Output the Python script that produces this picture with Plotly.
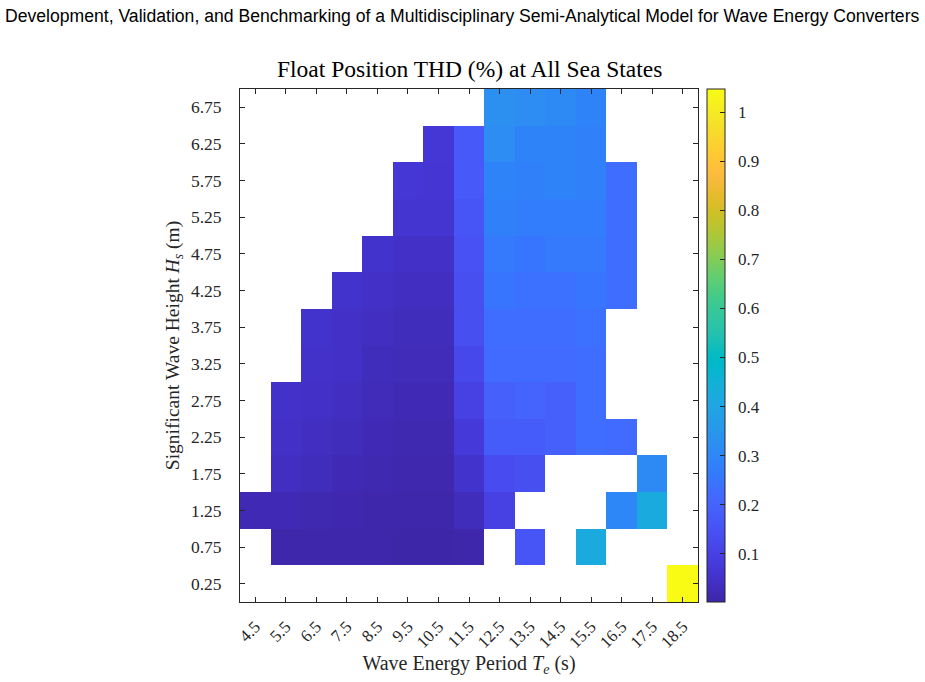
import plotly.graph_objects as go

te_periods = [4.5, 5.5, 6.5, 7.5, 8.5, 9.5, 10.5, 11.5, 12.5, 13.5, 14.5, 15.5, 16.5, 17.5, 18.5]
hs_heights = [0.25, 0.75, 1.25, 1.75, 2.25, 2.75, 3.25, 3.75, 4.25, 4.75, 5.25, 5.75, 6.25, 6.75]
x_tick_labels = ["4.5", "5.5", "6.5", "7.5", "8.5", "9.5", "10.5", "11.5", "12.5", "13.5", "14.5", "15.5", "16.5", "17.5", "18.5"]
y_tick_labels = ["0.25", "0.75", "1.25", "1.75", "2.25", "2.75", "3.25", "3.75", "4.25", "4.75", "5.25", "5.75", "6.25", "6.75"]
cbar_ticks = [0.1, 0.2, 0.3, 0.4, 0.5, 0.6, 0.7, 0.8, 0.9, 1.0]
cbar_labels = ["0.1", "0.2", "0.3", "0.4", "0.5", "0.6", "0.7", "0.8", "0.9", "1"]

N = None
thd_row_025 = [N, N, N, N, N, N, N, N, N, N, N, N, N, N, 1.047]
thd_row_075 = [N, .008, .008, .006, .005, .004, .004, .008, N, .16, N, .42, N, N, N]
thd_row_125 = [.02, .02, .015, .012, .008, .006, .006, .03, .10, N, N, N, .30, .42, N]
thd_row_175 = [N, .035, .03, .02, .015, .01, .01, .055, .13, .14, N, N, N, .31, N]
thd_row_225 = [N, .045, .035, .03, .02, .015, .015, .075, .18, .18, .19, .23, .22, N, N]
thd_row_275 = [N, .05, .045, .035, .025, .02, .02, .10, .19, .20, .19, .23, N, N, N]
thd_row_325 = [N, N, .05, .045, .03, .025, .025, .12, .22, .22, .22, .23, N, N, N]
thd_row_375 = [N, N, .055, .045, .035, .03, .03, .14, .23, .23, .23, .24, N, N, N]
thd_row_425 = [N, N, N, .055, .045, .035, .035, .14, .25, .24, .24, .25, .23, N, N]
thd_row_475 = [N, N, N, N, .055, .045, .045, .15, .26, .25, .26, .26, .23, N, N]
thd_row_525 = [N, N, N, N, N, .06, .06, .16, .28, .27, .27, .27, .23, N, N]
thd_row_575 = [N, N, N, N, N, .07, .065, .17, .29, .28, .29, .28, .23, N, N]
thd_row_625 = [N, N, N, N, N, N, .07, .17, .32, .29, .29, .28, N, N, N]
thd_row_675 = [N, N, N, N, N, N, N, N, .33, .32, .31, .29, N, N, N]

thd_grid = [thd_row_025, thd_row_075, thd_row_125, thd_row_175, thd_row_225, thd_row_275,
            thd_row_325, thd_row_375, thd_row_425, thd_row_475, thd_row_525, thd_row_575,
            thd_row_625, thd_row_675]

parula = [
    (0.2422, 0.1504, 0.6603), (0.2504, 0.1650, 0.7076), (0.2578, 0.1818, 0.7511), (0.2647, 0.1978, 0.7952),
    (0.2706, 0.2147, 0.8364), (0.2751, 0.2342, 0.8710), (0.2783, 0.2559, 0.8991), (0.2803, 0.2782, 0.9221),
    (0.2813, 0.3006, 0.9414), (0.2810, 0.3228, 0.9579), (0.2795, 0.3447, 0.9717), (0.2760, 0.3667, 0.9829),
    (0.2699, 0.3892, 0.9906), (0.2602, 0.4123, 0.9952), (0.2440, 0.4358, 0.9988), (0.2206, 0.4603, 0.9973),
    (0.1963, 0.4847, 0.9892), (0.1834, 0.5074, 0.9798), (0.1786, 0.5289, 0.9682), (0.1764, 0.5499, 0.9520),
    (0.1687, 0.5703, 0.9359), (0.1540, 0.5902, 0.9218), (0.1460, 0.6091, 0.9079), (0.1380, 0.6276, 0.8973),
    (0.1248, 0.6459, 0.8883), (0.1113, 0.6635, 0.8763), (0.0952, 0.6798, 0.8598), (0.0689, 0.6948, 0.8394),
    (0.0297, 0.7082, 0.8163), (0.0036, 0.7203, 0.7917), (0.0067, 0.7312, 0.7660), (0.0433, 0.7411, 0.7394),
    (0.0964, 0.7500, 0.7120), (0.1408, 0.7584, 0.6842), (0.1717, 0.7670, 0.6554), (0.1938, 0.7758, 0.6251),
    (0.2161, 0.7843, 0.5923), (0.2470, 0.7918, 0.5567), (0.2906, 0.7973, 0.5188), (0.3406, 0.8008, 0.4789),
    (0.3909, 0.8029, 0.4354), (0.4456, 0.8024, 0.3909), (0.5044, 0.7993, 0.3480), (0.5616, 0.7942, 0.3045),
    (0.6174, 0.7876, 0.2612), (0.6720, 0.7793, 0.2227), (0.7242, 0.7698, 0.1910), (0.7738, 0.7598, 0.1646),
    (0.8203, 0.7498, 0.1535), (0.8634, 0.7406, 0.1596), (0.9035, 0.7330, 0.1774), (0.9393, 0.7288, 0.2100),
    (0.9728, 0.7298, 0.2394), (0.9956, 0.7434, 0.2371), (0.9970, 0.7659, 0.2199), (0.9952, 0.7893, 0.2028),
    (0.9892, 0.8136, 0.1885), (0.9786, 0.8386, 0.1766), (0.9676, 0.8639, 0.1643), (0.9610, 0.8890, 0.1537),
    (0.9597, 0.9135, 0.1423), (0.9628, 0.9373, 0.1265), (0.9691, 0.9606, 0.1064), (0.9769, 0.9839, 0.0805),
]
colorscale = [[i / (len(parula) - 1), "rgb(%d,%d,%d)" % tuple(round(c * 255) for c in rgb)]
              for i, rgb in enumerate(parula)]

serif = "Liberation Serif, Times New Roman, serif"
ink = "#262626"

fig = go.Figure(go.Heatmap(
    x=te_periods, y=hs_heights, z=thd_grid,
    colorscale=colorscale, zmin=0.002, zmax=1.047,
    hoverongaps=False,
    colorbar=dict(
        thickness=18, thicknessmode="pixels",
        len=1, lenmode="fraction", y=0.5, yanchor="middle",
        x=1.0197, xanchor="left", xpad=0, ypad=0,
        outlinecolor=ink, outlinewidth=1,
        tickvals=cbar_ticks, ticktext=["\u00a0\u00a0" + t for t in cbar_labels],
        ticks="inside", ticklen=5, tickcolor=ink,
        tickfont=dict(family=serif, size=17, color=ink),
    ),
))

fig.update_layout(
    width=925, height=682,
    margin=dict(l=240, r=227, t=89, b=80),
    paper_bgcolor="white", plot_bgcolor="white",
    xaxis=dict(
        range=[4, 19], tickmode="array", tickvals=te_periods, ticktext=x_tick_labels,
        tickangle=-45, ticks="inside", ticklen=5, tickcolor=ink, tickwidth=1,
        showline=True, linecolor=ink, linewidth=1, mirror="ticks",
        showgrid=False, zeroline=False, ticklabelstandoff=7,
        tickfont=dict(family=serif, size=17, color=ink),
        title=dict(text="Wave Energy Period <i>T</i><sub><i>e</i></sub> (s)",
                   font=dict(family=serif, size=20, color=ink), standoff=4),
    ),
    yaxis=dict(
        range=[0, 7], tickmode="array", tickvals=hs_heights, ticktext=y_tick_labels,
        ticks="inside", ticklen=5, tickcolor=ink, tickwidth=1,
        showline=True, linecolor=ink, linewidth=1, mirror="ticks",
        showgrid=False, zeroline=False, ticklabelstandoff=14,
        tickfont=dict(family=serif, size=17.5, color=ink),
        title=dict(text="Significant Wave Height <i>H</i><sub><i>s</i></sub> (m)",
                   font=dict(family=serif, size=19.5, color=ink), standoff=6),
    ),
    annotations=[
        dict(text="Development, Validation, and Benchmarking of a Multidisciplinary Semi-Analytical Model for Wave Energy Converters",
             x=(462 - 240) / 458, y=1 + (89 - 16) / 513, xref="paper", yref="paper",
             yanchor="middle", showarrow=False,
             font=dict(family="Liberation Sans, Arial, sans-serif", size=17.6, color="black")),
        dict(text="Float Position THD (%) at All Sea States",
             x=0.5, xref="paper", y=1, yref="paper", yanchor="bottom", yshift=5, showarrow=False,
             font=dict(family=serif, size=23.5, color="black")),
    ],
)

fig.write_html("out.html")
